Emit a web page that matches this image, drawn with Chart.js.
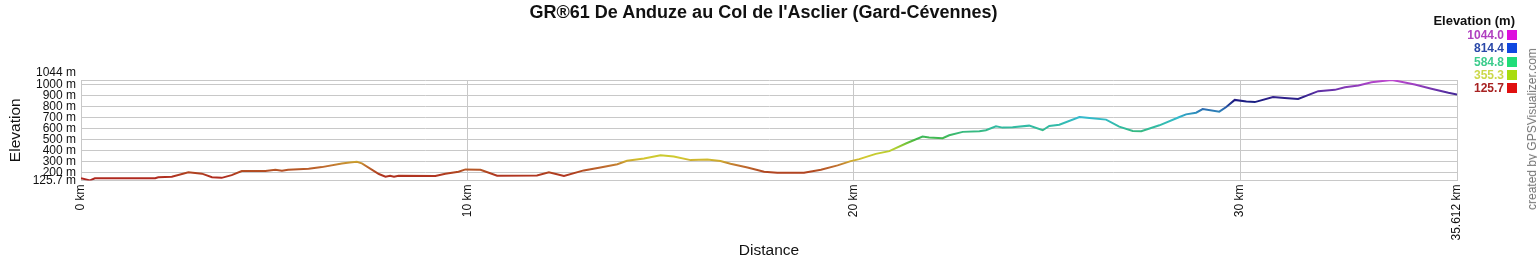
<!DOCTYPE html>
<html>
<head>
<meta charset="utf-8">
<script src="https://cdn.jsdelivr.net/npm/chart.js@4.4.1/dist/chart.umd.min.js"></script>
<style>
  html, body { margin: 0; padding: 0; background: #fff; }
  #wrap { position: relative; width: 1537px; height: 260px; overflow: hidden; font-family: Arial, "Liberation Sans", sans-serif; }
  #c { position: absolute; left: 0; top: 0; }
  #title { position: absolute; left: 0; width: 1527px; top: 2px; text-align: center; font-weight: bold; font-size: 18px; color: #111; }
  #legTitle { position: absolute; right: 22px; top: 13px; font-weight: bold; font-size: 13px; color: #111; }
  .leg { position: absolute; right: 20px; height: 13px; font-weight: bold; font-size: 12px; line-height: 13px; }
  .leg span.sw { display: inline-block; width: 10px; height: 10px; margin-left: 3px; vertical-align: -1px; }
  #credit { position: absolute; left: 1532px; top: 129px; transform: translate(-50%, -50%) rotate(-90deg); white-space: nowrap; font-size: 12px; color: #777; }
</style>
</head>
<body>
<div id="wrap">
  <canvas id="c" width="1537" height="260"></canvas>
  <div id="title">GR®61 De Anduze au Col de l'Asclier (Gard-Cévennes)</div>
  <div id="legTitle">Elevation (m)</div>
  <div id="legend"></div>
  <div id="credit">created by GPSVisualizer.com</div>
</div>
<script>
// ---- data ----
const distanceKm = [0, 0.23, 0.36, 1.92, 2.0, 2.35, 2.78, 3.13, 3.39, 3.64, 3.9, 4.16, 4.77, 5.03, 5.2, 5.36, 5.89, 6.23, 6.75, 6.95, 7.14, 7.27, 7.71, 7.88, 8.0, 8.1, 8.22, 9.17, 9.43, 9.77, 9.95, 10.34, 10.77, 11.8, 12.11, 12.5, 13.01, 13.44, 13.88, 14.13, 14.57, 15.0, 15.34, 15.78, 16.21, 16.55, 16.81, 17.25, 17.68, 18.02, 18.71, 19.15, 19.58, 19.92, 20.14, 20.57, 20.92, 21.35, 21.78, 21.95, 22.3, 22.47, 22.82, 23.25, 23.42, 23.68, 23.85, 24.11, 24.54, 24.89, 25.06, 25.32, 25.84, 26.1, 26.53, 26.87, 27.22, 27.44, 27.91, 28.43, 28.6, 28.86, 29.03, 29.46, 29.64, 29.86, 30.16, 30.38, 30.85, 31.15, 31.5, 32.02, 32.45, 32.71, 33.06, 33.4, 33.8, 33.92, 34.1, 34.52, 34.95, 35.39, 35.612];
const elevationM = [146, 127, 146, 146, 155, 160, 200, 188, 155, 150, 175, 212, 212, 224, 214, 224, 233, 248, 282, 290, 296, 282, 185, 160, 168, 160, 170, 167, 188, 206, 227, 224, 169, 172, 200, 167, 218, 245, 275, 306, 327, 357, 345, 312, 318, 303, 278, 245, 206, 197, 197, 224, 264, 303, 321, 369, 394, 464, 527, 518, 512, 539, 570, 576, 585, 621, 609, 612, 627, 585, 624, 636, 706, 697, 682, 618, 579, 576, 630, 706, 730, 745, 778, 755, 797, 862, 848, 842, 888, 879, 870, 942, 954, 978, 994, 1024, 1040, 1044, 1033, 1003, 964, 927, 912];
const xTicks = [0, 10, 20, 30, 35.612];
const yTicks = [125.7, 200, 300, 400, 500, 600, 700, 800, 900, 1000, 1044];
const legendValues = ['1044.0', '814.4', '584.8', '355.3', '125.7'];
const legendTextColors = ['#b040c0', '#2a48a8', '#3ccc8c', '#ccd84a', '#a82222'];
const legendSwatchColors = ['#dd10dd', '#1048e0', '#20dd78', '#a8dc10', '#e01010'];
const lineStopElev = [125.7, 200, 260, 330, 420, 500, 600, 700, 780, 850, 920, 1000, 1044];
const lineStopColor = ['#b02020', '#b04420', '#c07030', '#d4c830', '#b0d030', '#44b844', '#33bb99', '#33bbcc', '#2a6ab0', '#1a1a80', '#4a2a9a', '#9a40c0', '#c048d0'];

// legend (HTML text)
const leg = document.getElementById('legend');
legendValues.forEach((v, i) => {
  const d = document.createElement('div');
  d.className = 'leg';
  d.style.top = (29 + i * 13.3) + 'px';
  d.style.color = legendTextColors[i];
  d.innerHTML = v + '<span class="sw" style="background:' + legendSwatchColors[i] + '"></span>';
  leg.appendChild(d);
});

const points = distanceKm.map((x, i) => ({ x: x, y: elevationM[i] }));

function lineGradient(ctx) {
  const chart = ctx.chart;
  const area = chart.chartArea;
  if (!area) return '#b02020';
  const y = chart.scales.y;
  const p0 = y.getPixelForValue(125.7), p1 = y.getPixelForValue(1044);
  const g = chart.ctx.createLinearGradient(0, p0, 0, p1);
  lineStopElev.forEach((e, i) => {
    g.addColorStop((e - 125.7) / (1044 - 125.7), lineStopColor[i]);
  });
  return g;
}

const fontFam = 'Arial, "Liberation Sans", sans-serif';

new Chart(document.getElementById('c'), {
  type: 'line',
  data: {
    datasets: [{
      data: points,
      borderColor: lineGradient,
      borderWidth: 2,
      pointRadius: 0,
      tension: 0,
      fill: false
    }]
  },
  options: {
    responsive: false,
    animation: false,
    devicePixelRatio: 1,
    layout: { padding: { top: 80, right: 80, left: 0, bottom: 0 } },
    plugins: { legend: { display: false }, tooltip: { enabled: false }, title: { display: false } },
    scales: {
      x: {
        type: 'linear',
        min: 0,
        max: 35.612,
        afterBuildTicks: s => { s.ticks = xTicks.map(v => ({ value: v })); },
        afterFit: s => { s.height = 79.5; },
        ticks: {
          autoSkip: false,
          maxRotation: 90,
          minRotation: 90,
          padding: 4,
          color: '#111',
          font: { family: fontFam, size: 12 },
          callback: v => v + ' km'
        },
        grid: { color: '#c8c8c8', lineWidth: 1, drawTicks: false },
        border: { color: '#c8c8c8' },
        title: {
          display: true,
          text: 'Distance',
          color: '#111',
          font: { family: fontFam, size: 15.5 },
          padding: { top: 0, bottom: 0 }
        }
      },
      y: {
        type: 'linear',
        min: 125.7,
        max: 1044,
        afterBuildTicks: s => { s.ticks = yTicks.map(v => ({ value: v })); },
        afterFit: s => { s.width = 81; },
        ticks: {
          autoSkip: false,
          padding: 5,
          color: '#111',
          font: { family: fontFam, size: 12 },
          callback: v => (v === 1044 ? [v + ' m', ''] : v + ' m')
        },
        grid: { color: '#c8c8c8', lineWidth: 1, drawTicks: false },
        border: { color: '#c8c8c8' },
        title: {
          display: true,
          text: 'Elevation',
          color: '#111',
          font: { family: fontFam, size: 15.5 },
          padding: { top: 6, bottom: 0 }
        }
      }
    }
  }
});
</script>
</body>
</html>
